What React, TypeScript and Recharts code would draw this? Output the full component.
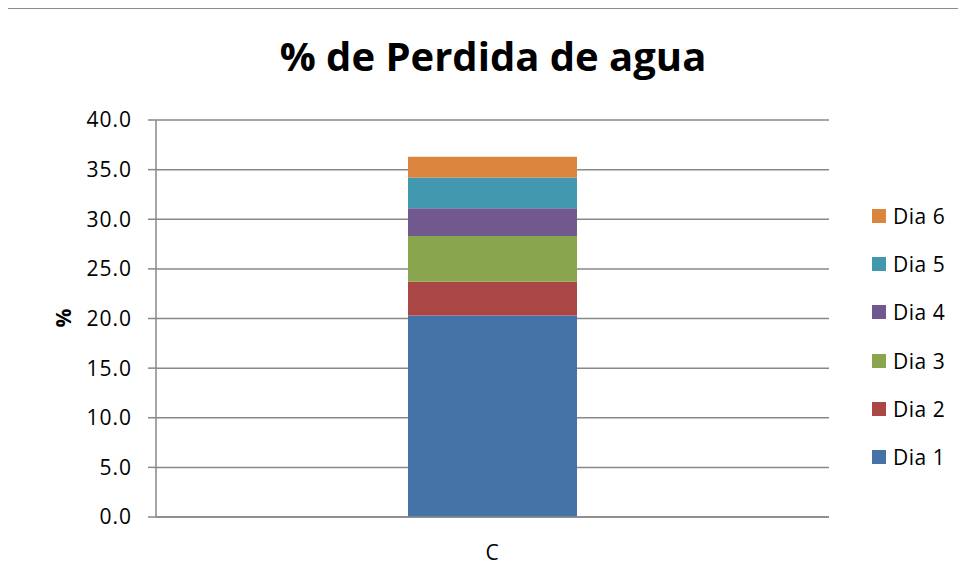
import { Bar, BarChart, CartesianGrid, XAxis, YAxis } from "recharts"

const categories = ["C"]
const dia1 = [20.3]
const dia2 = [3.4]
const dia3 = [4.6]
const dia4 = [2.8]
const dia5 = [3.1]
const dia6 = [2.1]
const yTicks = [0, 5, 10, 15, 20, 25, 30, 35, 40]

const seriesNames = ["Dia 1", "Dia 2", "Dia 3", "Dia 4", "Dia 5", "Dia 6"]
const seriesValues = [dia1, dia2, dia3, dia4, dia5, dia6]
const colors = ["#4572A7", "#AA4643", "#89A54E", "#71588F", "#4198AF", "#DB843D"]

const data = categories.map((name, i) => {
  const row: Record<string, string | number> = { name }
  seriesNames.forEach((s, j) => {
    row[s] = seriesValues[j][i]
  })
  return row
})

const font = "'Open Sans', sans-serif"
const tickStyle = { fill: "#000", fontSize: 21, fontFamily: font, letterSpacing: 1 }

// legend drawn top-down, last series first like Excel does
function LegendBox() {
  const items = seriesNames.map((s, i) => ({ name: s, color: colors[i] })).reverse()
  return (
    <div style={{ position: "absolute", left: 872, top: 192, fontFamily: font, fontSize: 21, letterSpacing: 0.5, color: "#000", zIndex: 2 }}>
      {items.map((it) => (
        <div key={it.name} style={{ display: "flex", alignItems: "center", height: 48.2 }}>
          <span style={{ width: 14, height: 14, background: it.color, marginRight: 7, display: "inline-block" }} />
          <span>{it.name}</span>
        </div>
      ))}
    </div>
  )
}

export default function App() {
  return (
    <div style={{ position: "relative", width: 966, height: 581, margin: -8, overflow: "hidden", background: "#fff" }}>
      <BarChart
        width={966}
        height={581}
        data={data}
        margin={{ top: 120, right: 137, bottom: 0, left: 0 }}
        barSize={169}
        style={{ position: "absolute", left: 0, top: 0 }}
      >
        <CartesianGrid vertical={false} stroke="#888" strokeWidth={1.5} />
        <XAxis
          dataKey="name"
          axisLine={{ stroke: "#888", strokeWidth: 1.5 }}
          tickLine={false}
          height={64}
          tickMargin={22}
          tick={tickStyle}
        />
        <YAxis
          width={156}
          domain={[0, 40]}
          ticks={yTicks}
          interval={0}
          tickFormatter={(v: number) => v.toFixed(1)}
          axisLine={{ stroke: "#888", strokeWidth: 1.5 }}
          tickLine={{ stroke: "#888", strokeWidth: 1.5 }}
          tickSize={8}
          tickMargin={16}
          tick={tickStyle}
        />
        {seriesNames.map((s, i) => (
          <Bar key={s} dataKey={s} stackId="a" fill={colors[i]} isAnimationActive={false} />
        ))}
      </BarChart>
      <LegendBox />
      <div
        style={{
          position: "absolute",
          left: 0,
          width: 986,
          top: 28,
          textAlign: "center",
          fontFamily: font,
          fontWeight: 700,
          fontSize: 40,
          lineHeight: "56px",
          color: "#000",
          zIndex: 2,
        }}
      >
        % de Perdida de agua
      </div>
      <div
        style={{
          position: "absolute",
          left: 63,
          top: 318,
          transform: "translate(-50%, -50%) rotate(-90deg)",
          fontFamily: font,
          fontWeight: 700,
          fontSize: 21,
          color: "#000",
          zIndex: 2,
        }}
      >
        %
      </div>
      {/* outer chart frame (only top and left edges are inside the picture) */}
      <div style={{ position: "absolute", left: 5, top: 6, width: 3, height: 600, background: "#8c8c8c", zIndex: 4 }} />
      <div style={{ position: "absolute", left: 5, top: 6, width: 1000, height: 3, background: "#8c8c8c", zIndex: 4 }} />
    </div>
  )
}
